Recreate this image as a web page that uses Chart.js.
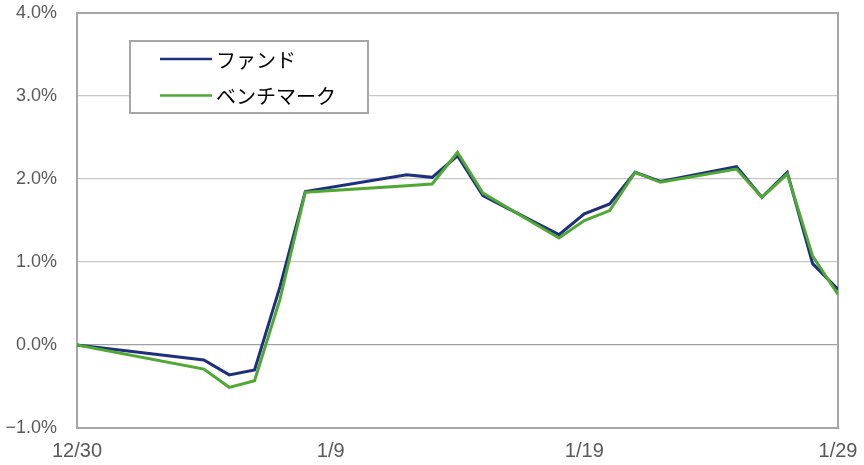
<!DOCTYPE html>
<html><head><meta charset="utf-8">
<script src="https://cdn.jsdelivr.net/npm/chart.js@4"></script>
<style>html,body{margin:0;padding:0;background:#fff}#wrap{width:864px;height:465px;position:relative}</style>
</head><body><div id="wrap"><canvas id="c"></canvas></div>
<script>
const dates = ["2020-12-30","2021-01-04","2021-01-05","2021-01-06","2021-01-07","2021-01-08","2021-01-12","2021-01-13","2021-01-14","2021-01-15","2021-01-18","2021-01-19","2021-01-20","2021-01-21","2021-01-22","2021-01-25","2021-01-26","2021-01-27","2021-01-28","2021-01-29"];
const fund  = [0.00,-0.18,-0.36,-0.30,0.70,1.85,2.05,2.02,2.28,1.80,1.33,1.58,1.70,2.08,1.97,2.15,1.78,2.08,0.98,0.67];
const bench = [0.00,-0.29,-0.51,-0.43,0.55,1.84,1.92,1.94,2.32,1.83,1.29,1.50,1.62,2.08,1.96,2.12,1.78,2.06,1.07,0.61];
const tickLabels = ["12/30","1/9","1/19","1/29"];
const seriesNames = ["ファンド","ベンチマーク"];

const t0 = Date.parse(dates[0]);
const dayOf = d => Math.round((Date.parse(d) - t0) / 86400000);
const fundPts = dates.map((d,i)=>({x:dayOf(d), y:fund[i]}));
const benchPts = dates.map((d,i)=>({x:dayOf(d), y:bench[i]}));
const xMax = dayOf(dates[dates.length-1]);

const frame = {
  id:'frame',
  beforeDatasetsDraw(chart){
    const {ctx, chartArea:a} = chart;
    ctx.save();
    ctx.strokeStyle='#a6a6a6'; ctx.lineWidth=2;
    ctx.strokeRect(a.left, a.top, a.right-a.left, a.bottom-a.top);
    ctx.restore();
  }
};
const legendBox = {
  id:'legendBox',
  afterDatasetsDraw(chart){
    const ctx = chart.ctx;
    ctx.save();
    const x=130,y=41,w=238,h=72;
    ctx.fillStyle='#fff'; ctx.fillRect(x,y,w,h);
    ctx.strokeStyle='#a6a6a6'; ctx.lineWidth=2; ctx.strokeRect(x,y,w,h);
    chart.data.datasets.forEach((ds,i)=>{
      const ly = 59 + i*36.5;
      ctx.strokeStyle=ds.borderColor; ctx.lineWidth=2.5;
      ctx.beginPath(); ctx.moveTo(160,ly); ctx.lineTo(212,ly); ctx.stroke();
      ctx.fillStyle='#000'; ctx.font='20px "Noto Sans CJK JP"'; ctx.textBaseline='middle';
      ctx.fillText(ds.label, 216, ly+1);
    });
    ctx.restore();
  }
};

new Chart(document.getElementById('c'), {
  type:'line',
  data:{datasets:[
    {label:seriesNames[0], data:fundPts, borderColor:'#1f2f7f', borderWidth:3, pointRadius:0, tension:0, order:2},
    {label:seriesNames[1], data:benchPts, borderColor:'#4ea832', borderWidth:3, pointRadius:0, tension:0, order:1}
  ]},
  options:{
    responsive:true, maintainAspectRatio:false, animation:false,
    layout:{padding:{top:13,right:26,left:0,bottom:0}},
    plugins:{legend:{display:false}, tooltip:{enabled:false}},
    scales:{
      x:{type:'linear', min:0, max:xMax,
        afterBuildTicks(s){ s.ticks = tickLabels.map((l,i)=>({value:i*10})); },
        ticks:{callback:(v)=>tickLabels[Math.round(v/10)], color:'#595959', font:{size:20, family:'"Liberation Sans",sans-serif'}, maxRotation:0, padding:3},
        grid:{display:false}, border:{display:false},
        afterFit(s){ s.height = 37; s.paddingLeft = 0; s.paddingRight = 0; }
      },
      y:{min:-1, max:4,
        ticks:{stepSize:1, callback:(v)=> (v<0?'\u2212':'') + Math.abs(v).toFixed(1)+'%', color:'#595959', font:{size:18, family:'"Liberation Sans",sans-serif'}, padding:20},
        grid:{color:(c)=> c.tick && c.tick.value===0 ? '#a0a0a0' : '#c8c8c8', lineWidth:1.2, drawTicks:false},
        border:{display:false},
        afterFit(s){ s.width = 77; s.paddingTop = 0; s.paddingBottom = 0; }
      }
    }
  },
  plugins:[frame, legendBox]
});
</script></body></html>
